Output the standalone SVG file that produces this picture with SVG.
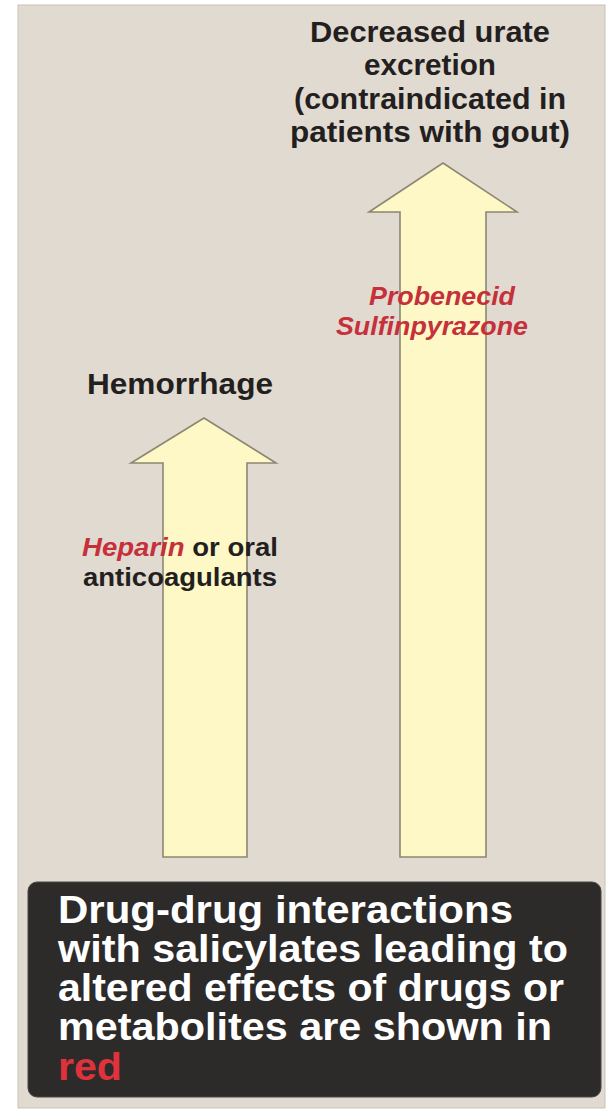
<svg xmlns="http://www.w3.org/2000/svg" width="611" height="1110" viewBox="0 0 611 1110">
<style>
.lbl{font-family:"Liberation Sans",Arial,sans-serif;font-weight:bold;fill:#231f20;text-anchor:middle}
.red{fill:#c6303a;font-style:italic}
.arrow{fill:#fdf8c6;stroke:#8c8672;stroke-width:1.6;stroke-linejoin:miter}
.note{font-family:"Liberation Sans",Arial,sans-serif;font-weight:bold;fill:#ffffff;font-size:38px}
</style>
<rect x="0" y="0" width="611" height="1110" fill="#ffffff"/>
<rect x="18" y="5" width="587" height="1103" fill="#e1dad1" stroke="#c9c2b8" stroke-width="1"/>
<g id="connectors">
<path id="arrow-left" class="arrow" d="M163,857 L163,463 L131,463 L204,418 L276,463 L247,463 L247,857 Z"/>
<path id="arrow-right" class="arrow" d="M400,857 L400,212 L369,212 L443,163 L517,212 L486,212 L486,857 Z"/>
</g>
<g id="node-urate">
<text class="lbl" font-size="30" x="430" y="42" textLength="240" lengthAdjust="spacingAndGlyphs">Decreased urate</text>
<text class="lbl" font-size="30" x="430" y="75" textLength="132" lengthAdjust="spacingAndGlyphs">excretion</text>
<text class="lbl" font-size="30" x="430" y="109" textLength="272" lengthAdjust="spacingAndGlyphs">(contraindicated in</text>
<text class="lbl" font-size="30" x="430" y="142" textLength="280" lengthAdjust="spacingAndGlyphs">patients with gout)</text>
</g>
<g id="node-hemorrhage">
<text class="lbl" font-size="29" x="180" y="394" textLength="186" lengthAdjust="spacingAndGlyphs">Hemorrhage</text>
</g>
<g id="node-heparin">
<text class="lbl" font-size="26" x="180" y="556" textLength="196" lengthAdjust="spacingAndGlyphs"><tspan class="red">Heparin</tspan> or oral</text>
<text class="lbl" font-size="26" x="180" y="586" textLength="194" lengthAdjust="spacingAndGlyphs">anticoagulants</text>
</g>
<g id="node-probenecid">
<text class="lbl red" font-size="26" x="442" y="305" textLength="146" lengthAdjust="spacingAndGlyphs">Probenecid</text>
<text class="lbl red" font-size="26" x="432" y="335" textLength="192" lengthAdjust="spacingAndGlyphs">Sulfinpyrazone</text>
</g>
<g id="node-note">
<rect x="28" y="882" width="573" height="215" rx="9" fill="#2d2a2a" stroke="#4a4646" stroke-width="1"/>
<text class="note" x="58" y="923" textLength="455" lengthAdjust="spacingAndGlyphs">Drug-drug interactions</text>
<text class="note" x="58" y="962" textLength="510" lengthAdjust="spacingAndGlyphs">with salicylates leading to</text>
<text class="note" x="58" y="1001" textLength="506" lengthAdjust="spacingAndGlyphs">altered effects of drugs or</text>
<text class="note" x="58" y="1040" textLength="494" lengthAdjust="spacingAndGlyphs">metabolites are shown in</text>
<text class="note" x="58" y="1080" style="fill:#e0323c" textLength="64" lengthAdjust="spacingAndGlyphs">red</text>
</g>
</svg>
